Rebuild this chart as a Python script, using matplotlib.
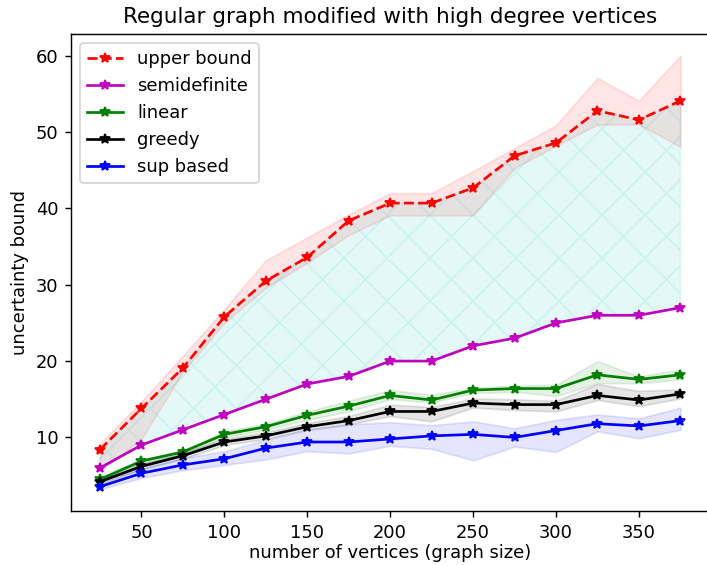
import matplotlib.pyplot as plt

sizes = [25, 50, 75, 100, 125, 150, 175, 200, 225, 250, 275, 300, 325, 350, 375]

upper = [8.4, 13.8, 19.1, 25.8, 30.5, 33.6, 38.4, 40.7, 40.7, 42.7, 46.9, 48.6, 52.8, 51.6, 54.1]
upper_lo = [5.6, 9.8, 18.6, 25.0, 29.6, 32.9, 36.5, 39.1, 39.1, 39.1, 45.3, 48.2, 51.0, 51.0, 48.1]
upper_hi = [9.2, 14.7, 20.7, 26.8, 33.2, 36.2, 39.2, 42.0, 42.0, 44.9, 47.9, 50.9, 57.1, 54.1, 60.0]

semidef = [6, 9, 11, 13, 15, 17, 18, 20, 20, 22, 23, 25, 26, 26, 27]

linear = [4.5, 6.9, 8.1, 10.4, 11.4, 12.9, 14.1, 15.5, 14.9, 16.2, 16.4, 16.4, 18.2, 17.6, 18.2]
linear_lo = [4.3, 6.5, 7.8, 10.0, 11.0, 12.3, 13.4, 15.0, 14.6, 15.8, 16.0, 15.4, 17.1, 17.1, 17.6]
linear_hi = [4.9, 7.1, 8.3, 10.8, 11.8, 13.4, 14.8, 16.2, 15.6, 16.5, 16.8, 16.9, 20.0, 18.0, 18.9]

greedy = [4.2, 6.2, 7.6, 9.4, 10.2, 11.4, 12.2, 13.4, 13.4, 14.5, 14.3, 14.3, 15.5, 14.9, 15.7]
greedy_lo = [3.9, 5.8, 7.2, 9.0, 9.8, 11.0, 11.7, 12.8, 12.1, 13.9, 13.6, 13.4, 14.9, 14.1, 15.1]
greedy_hi = [4.5, 6.6, 8.0, 9.8, 10.7, 11.9, 12.8, 14.3, 14.0, 15.1, 15.0, 14.8, 17.0, 16.1, 16.3]

sup = [3.55, 5.3, 6.4, 7.2, 8.6, 9.4, 9.4, 9.8, 10.2, 10.4, 10.0, 10.9, 11.8, 11.5, 12.2]
sup_lo = [3.2, 4.7, 5.7, 6.4, 7.1, 8.2, 7.9, 8.9, 8.5, 7.0, 8.8, 8.1, 10.8, 9.9, 11.0]
sup_hi = [4.2, 5.9, 7.3, 8.2, 9.7, 11.0, 11.7, 12.0, 11.6, 12.1, 11.2, 12.3, 13.0, 12.5, 13.9]

dpi = 129
fig = plt.figure(figsize=(707 / dpi, 565 / dpi), dpi=dpi)
ax = fig.add_axes([0.1004, 0.0956, 0.903, 0.844])

ax.fill_between(sizes, upper_lo, upper_hi, color='r', alpha=0.1)
ax.fill_between(sizes, semidef, upper, color='c', alpha=0.1, hatch='x')
ax.fill_between(sizes, linear_lo, linear_hi, color='g', alpha=0.1)
ax.fill_between(sizes, greedy_lo, greedy_hi, color='k', alpha=0.1)
ax.fill_between(sizes, sup_lo, sup_hi, color='b', alpha=0.1)

ax.plot(sizes, upper, 'r--*', label='upper bound')
ax.plot(sizes, semidef, 'm-*', label='semidefinite')
ax.plot(sizes, linear, 'g-*', label='linear')
ax.plot(sizes, greedy, 'k-*', label='greedy')
ax.plot(sizes, sup, 'b-*', label='sup based')

ax.set_title('Regular graph modified with high degree vertices')
ax.set_xlabel('number of vertices (graph size)', labelpad=1.5)
ax.set_ylabel('uncertainty bound')
ax.legend(loc='upper left')

fig.savefig('out.png', dpi=dpi)
